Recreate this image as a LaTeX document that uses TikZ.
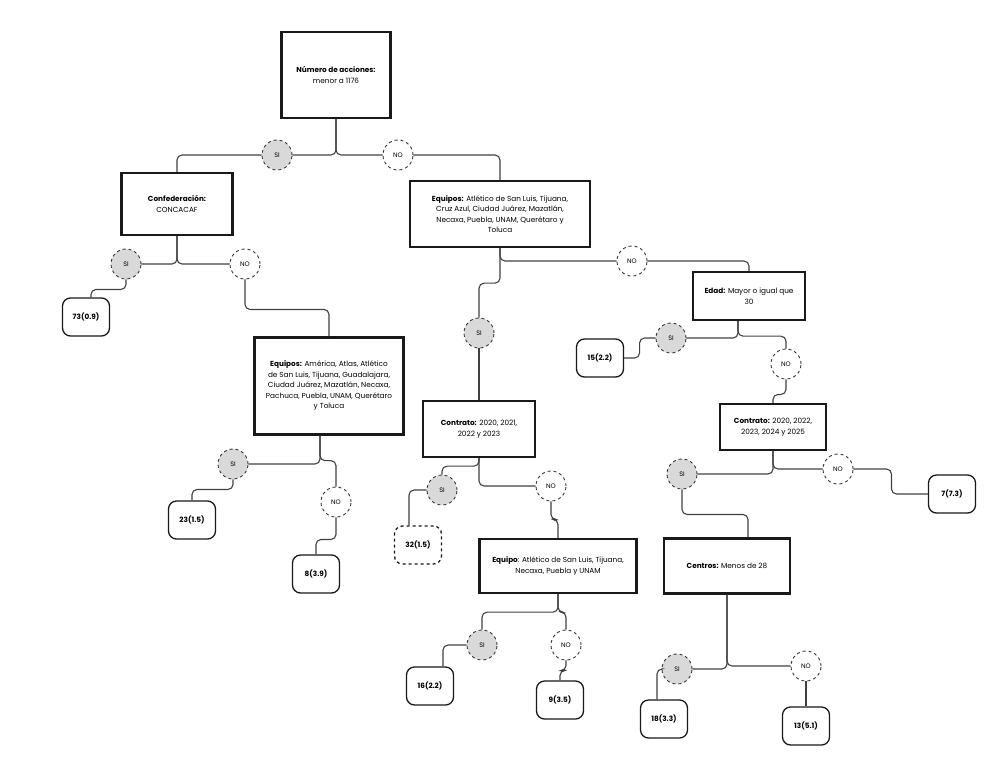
\documentclass[tikz,border=0pt]{standalone}
\usepackage{fontspec}
\setmainfont{Poppins}
\begin{document}
\begin{tikzpicture}[x=1pt,y=-1pt,
  font=\fontsize{7.3}{10.5}\selectfont,
  box/.style={draw=black!90,line width=2.3pt,align=center,inner sep=2pt},
  thinbox/.style={box,line width=1.6pt},
  si/.style={circle,draw=black!80,dashed,line width=0.9pt,fill=black!15,minimum size=30pt,inner sep=0pt,font=\fontsize{6.5}{8}\selectfont},
  no/.style={si,fill=white},
  leaf/.style={draw=black!90,rounded corners=8pt,line width=1.3pt,font=\bfseries\fontsize{7.3}{9}\selectfont,minimum width=47pt,minimum height=38pt,inner sep=1pt},
  conn/.style={draw=black!75,line width=1.1pt,rounded corners=5pt}]
\useasboundingbox (0,0) rectangle (992,763);
% decision boxes
\node[box,minimum width=109pt,minimum height=86pt] (root) at (336,75) {\textbf{Número de acciones:}\\menor a 1176};
\node[box,minimum width=111pt,minimum height=62pt] (conf) at (177,204) {\textbf{Confederación:}\\CONCACAF};
\node[box,minimum width=180pt,minimum height=66pt] (eq1) at (500,214) {\textbf{Equipos:} Atlético de San Luis, Tijuana,\\Cruz Azul, Ciudad Juárez, Mazatlán,\\Necaxa, Puebla, UNAM, Querétaro y\\Toluca};
\node[box,minimum width=149pt,minimum height=97pt] (eq2) at (329,386) {\textbf{Equipos:} América, Atlas, Atlético\\de San Luis, Tijuana, Guadalajara,\\Ciudad Juárez, Mazatlán, Necaxa,\\Pachuca, Puebla, UNAM, Querétaro\\y Toluca};
\node[box,minimum width=112pt,minimum height=48pt] (edad) at (749,296) {\textbf{Edad:} Mayor o igual que\\30};
\node[box,minimum width=112pt,minimum height=56pt] (con1) at (479,429) {\textbf{Contrato:} 2020, 2021,\\2022 y 2023};
\node[thinbox,minimum width=106pt,minimum height=46pt] (con2) at (773,427) {\textbf{Contrato:} 2020, 2022,\\2023, 2024 y 2025};
\node[box,minimum width=157pt,minimum height=54pt] (eq3) at (558,566) {\textbf{Equipo}: Atlético de San Luis, Tijuana,\\Necaxa, Puebla y UNAM};
\node[box,minimum width=126pt,minimum height=55pt] (cen) at (727,566) {\textbf{Centros:} Menos de 28};
% circles
\node[si] (s1) at (277,155) {SI}; \node[no] (n1) at (398,155) {NO};
\node[si] (s2) at (126,264) {SI}; \node[no] (n2) at (245,264) {NO};
\node[si] (s3) at (233,464) {SI}; \node[no] (n3) at (336,502) {NO};
\node[si] (s4) at (479,333) {SI}; \node[no] (n4) at (632,261) {NO};
\node[si] (s5) at (671,338) {SI}; \node[no] (n5) at (786,364) {NO};
\node[si] (s6) at (442,490) {SI}; \node[no] (n6) at (551,486) {NO};
\node[si] (s7) at (682,474) {SI}; \node[no] (n7) at (838,469) {NO};
\node[si] (s8) at (482,645) {SI}; \node[no] (n8) at (566,645) {NO};
\node[si] (s9) at (677,669) {SI}; \node[no] (n9) at (806,666) {NO};
% leaves
\node[leaf] (l73) at (86,317) {73(0.9)};
\node[leaf] (l23) at (192,520) {23(1.5)};
\node[leaf] (l8) at (316,574) {8(3.9)};
\node[leaf] (l15) at (600,358) {15(2.2)};
\node[leaf,dashed] (l32) at (418,545) {32(1.5)};
\node[leaf] (l16) at (430,686) {16(2.2)};
\node[leaf] (l9) at (560,700) {9(3.5)};
\node[leaf] (l7) at (952,494) {7(7.3)};
\node[leaf] (l18) at (664,719) {18(3.3)};
\node[leaf] (l13) at (806,726) {13(5.1)};
% connectors
\path[conn] (root.south) |- (s1.east);
\path[conn] (s1.west) -| (conf.north);
\path[conn] (root.south) |- (n1.west);
\path[conn] (n1.east) -| (eq1.north);
\path[conn] (conf.south) |- (s2.east);
\path[conn] (conf.south) |- (n2.west);
\path[conn] (s2.south) -- ++(0,10) -| ([xshift=5pt]l73.north);
\path[conn] (n2.south) -- ++(0,30) -| (eq2.north);
\path[conn] ([xshift=-9pt]eq2.south) |- (s3.east);
\path[conn] ([xshift=-9pt]eq2.south) -- ++(0,25) -| (n3.north);
\path[conn] (s3.south) -- ++(0,10) -| (l23.north);
\path[conn] (n3.south) -- ++(0,22) -| (l8.north);
\path[conn] (eq1.south) |- (n4.west);
\path[conn] (n4.east) -| (edad.north);
\path[conn] (eq1.south) -- ++(0,35) -| (s4.north);
\path[conn] (s4.south) -- (con1.north);
\path[conn] ([xshift=-11pt]edad.south) |- (s5.east);
\path[conn] ([xshift=-11pt]edad.south) -- ++(0,15) -| (n5.north);
\path[conn] (s5.west) -- ++(-16,0) |- (l15.east);
\path[conn] (n5.south) -- ++(0,15) -| (con2.north);
\path[conn] (con2.south) |- (s7.east);
\path[conn] (con2.south) |- (n7.west);
\path[conn] (n7.east) -- ++(38,0) |- (l7.west);
\path[conn] (s7.south) -- ++(0,25) -| ([xshift=21pt]cen.north);
\path[conn] (con1.south) -- ++(0,8) -| (s6.north);
\path[conn] (con1.south) |- (n6.west);
\path[conn] (s6.west) -| ([xshift=-9pt]l32.north);
\path[conn] (n6.south) -- ++(0,18) -| (eq3.north);
\path[conn] (eq3.south) -- ++(0,18) -| (s8.north);
\path[conn] (eq3.south) -- ++(0,18) -| (n8.north);
\path[conn] (s8.west) -| ([xshift=13pt]l16.north);
\path[conn] (n8.south) -- ++(0,10) -| (l9.north);
\path[conn] (cen.south) |- (s9.east);
\path[conn] (cen.south) |- (n9.west);
\path[conn] (s9.west) -| ([xshift=-7pt]l18.north);
\path[conn] (n9.south) -- (l13.north);
\end{tikzpicture}
\end{document}
